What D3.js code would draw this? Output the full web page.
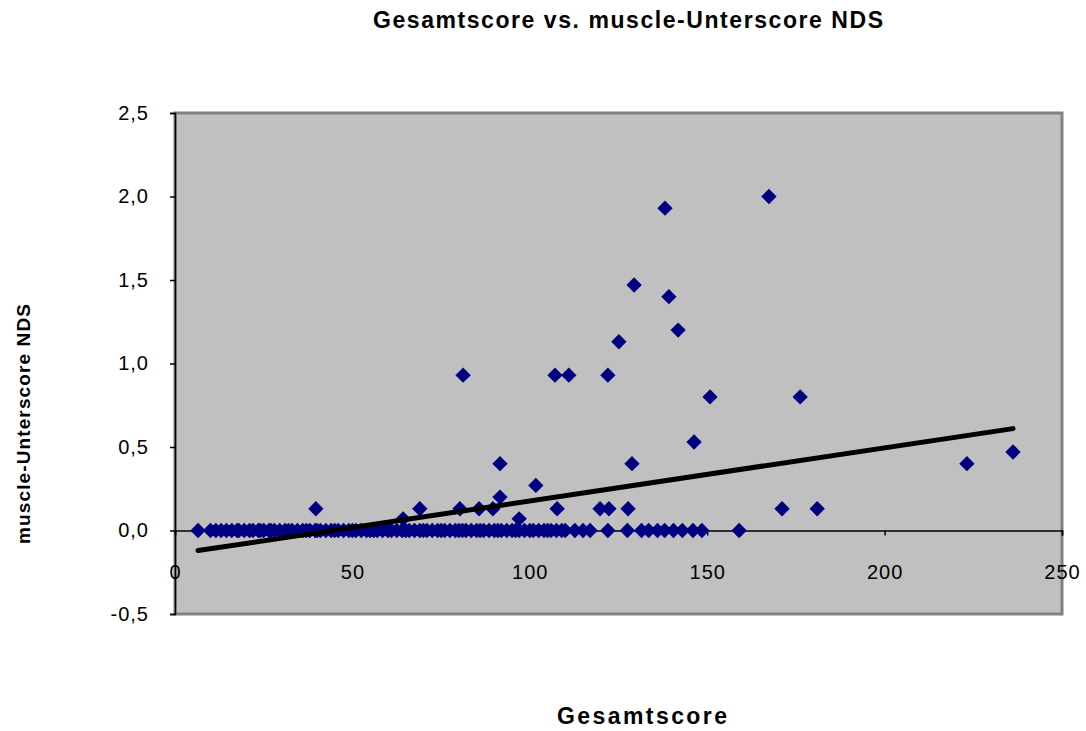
<!DOCTYPE html>
<html>
<head>
<meta charset="utf-8">
<script src="https://cdn.jsdelivr.net/npm/d3@7"></script>
<style>
  html, body { margin: 0; padding: 0; background: #fff; }
  svg { display: block; font-family: "Liberation Sans", Arial, sans-serif; }
</style>
</head>
<body>
<svg id="chart" width="1086" height="731"></svg>
<script>
// Points sitting on the zero line (muscle-Unterscore = 0)
const zeroScores = [
  6.5, 10, 11.5, 13, 14.5,
  16, 17.5, 18, 19.5, 21, 22, 23.5, 24, 25, 26.5, 27, 28, 29.5, 31, 32, 33, 34.5,
  36, 37, 38, 39.5, 40, 41, 42.5, 44, 45, 46, 47.5, 49, 50, 51, 52.5, 54, 55, 56,
  57, 58.5, 60, 61, 62.5, 64, 65, 66, 67.5, 69, 70, 71, 72.5, 74, 75, 76, 77.5,
  79, 80, 81, 82, 83.5, 85, 86, 87, 88.5, 90, 91, 92, 93.5, 95, 96, 97, 98.5,
  100, 101, 102.5, 104, 105, 106, 107.5, 109, 110,
  112.7, 115, 117, 122, 127.5, 131.5, 133.5, 136, 138, 140.5, 143, 146, 148.5, 159
];

// Points with a non-zero muscle-Unterscore
const otherScores = [
  39.7, 64.3, 69, 80.3, 81.2, 85.7, 89.6, 91.6, 91.6, 97, 101.7, 107.1, 107.7, 111,
  119.8, 122.3, 122, 125.1, 127.7, 129.4, 128.8, 138.1, 139.2, 141.8, 146.3, 150.8,
  167.4, 171.1, 176.2, 181, 223.2, 236.2
];
const otherValues = [
  0.13, 0.07, 0.13, 0.13, 0.93, 0.13, 0.13, 0.2, 0.4, 0.07, 0.27, 0.93, 0.13, 0.93,
  0.13, 0.13, 0.93, 1.13, 0.13, 1.47, 0.4, 1.93, 1.4, 1.2, 0.53, 0.8,
  2.0, 0.13, 0.8, 0.13, 0.4, 0.47
];

// Linear trend line
const trendSlope = 0.00318;
const trendIntercept = -0.141;

const xTicks = [0, 50, 100, 150, 200, 250];
const yTicks = [-0.5, 0, 0.5, 1.0, 1.5, 2.0, 2.5];

const points = zeroScores.map(x => ({ x, y: 0 }))
  .concat(otherScores.map((x, i) => ({ x, y: otherValues[i] })));

const svg = d3.select("#chart");
const plotLeft = 175, plotRight = 1062, plotTop = 113, plotBottom = 614;

const x = d3.scaleLinear().domain([0, 250]).range([plotLeft, plotRight]);
const y = d3.scaleLinear().domain([-0.5, 2.5]).range([plotBottom, plotTop]);

const fmt = v => d3.format(".1f")(v).replace(".", ",").replace("\u2212", "-");

// plot area
svg.append("rect")
  .attr("x", plotLeft).attr("y", plotTop)
  .attr("width", plotRight - plotLeft).attr("height", plotBottom - plotTop)
  .attr("fill", "#c0c0c0")
  .attr("stroke", "#808080").attr("stroke-width", 3);

// y axis
const yAxis = svg.append("g")
  .attr("transform", `translate(${plotLeft},0)`)
  .call(d3.axisLeft(y).tickValues(yTicks).tickFormat(fmt).tickSize(5).tickPadding(21));
yAxis.attr("font-family", null).attr("font-size", null);
yAxis.select(".domain").attr("stroke", "#000").attr("stroke-width", 1.5);
yAxis.selectAll(".tick line").attr("stroke", "#000").attr("stroke-width", 1.5);
yAxis.selectAll("text").attr("font-size", 20).attr("fill", "#000")
  .attr("letter-spacing", 1);

// x axis at y = 0
const xAxis = svg.append("g")
  .attr("transform", `translate(0,${y(0)})`)
  .call(d3.axisBottom(x).tickValues(xTicks).tickFormat(d3.format("d")).tickSizeOuter(0).tickSize(5).tickPadding(29));
xAxis.attr("font-family", null).attr("font-size", null);
xAxis.select(".domain").attr("stroke", "#000").attr("stroke-width", 1.5);
xAxis.selectAll(".tick line").attr("stroke", "#000").attr("stroke-width", 1.5);
xAxis.selectAll("text").attr("font-size", 20).attr("fill", "#000")
  .attr("letter-spacing", 1);

// data points
const diamond = d3.symbol().type(d3.symbolDiamond2).size(150);
svg.append("g").selectAll("path")
  .data(points)
  .join("path")
  .attr("d", diamond)
  .attr("transform", d => `translate(${x(d.x)},${y(d.y)})`)
  .attr("fill", "#000080");

// trend line across the data range
const xMin = d3.min(points, d => d.x), xMax = d3.max(points, d => d.x);
svg.append("line")
  .attr("x1", x(xMin)).attr("y1", y(trendIntercept + trendSlope * xMin))
  .attr("x2", x(xMax)).attr("y2", y(trendIntercept + trendSlope * xMax))
  .attr("stroke", "#000").attr("stroke-width", 5).attr("stroke-linecap", "round");

// titles
svg.append("text")
  .attr("x", 628).attr("y", 28)
  .attr("text-anchor", "middle")
  .attr("font-size", 23).attr("font-weight", "bold")
  .attr("textLength", 510).attr("lengthAdjust", "spacing")
  .text("Gesamtscore vs. muscle-Unterscore NDS");

svg.append("text")
  .attr("x", 642).attr("y", 724)
  .attr("text-anchor", "middle")
  .attr("font-size", 23).attr("font-weight", "bold")
  .attr("textLength", 170).attr("lengthAdjust", "spacing")
  .text("Gesamtscore");

svg.append("text")
  .attr("transform", "translate(30,424) rotate(-90)")
  .attr("text-anchor", "middle")
  .attr("font-size", 19).attr("font-weight", "bold")
  .attr("textLength", 240).attr("lengthAdjust", "spacing")
  .text("muscle-Unterscore NDS");
</script>
</body>
</html>
